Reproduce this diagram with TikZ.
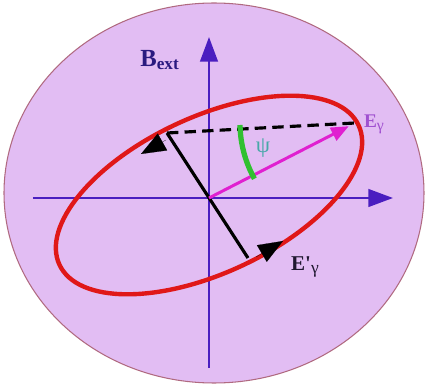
\documentclass[tikz,border=0pt]{standalone}
\usepackage{fontspec}
\setmainfont{Liberation Serif}
\usetikzlibrary{arrows.meta}
\definecolor{bgfill}{HTML}{E2BDF3}
\definecolor{bgline}{HTML}{B06A80}
\definecolor{axiscol}{HTML}{4A1EC0}
\definecolor{ellcol}{HTML}{E01818}
\definecolor{magcol}{HTML}{E020D0}
\definecolor{arccol}{HTML}{30C030}
\definecolor{psicol}{HTML}{48A8A8}
\definecolor{bcol}{HTML}{2A1A80}
\definecolor{ecol}{HTML}{A050D0}
\definecolor{epcol}{HTML}{201830}
\tikzset{
  axisline/.style={draw=axiscol, line width=1.4pt, -{Triangle[length=14pt,width=10pt]}},
  ellline/.style={draw=ellcol, line width=2.5pt},
  vecline/.style={draw=magcol, line width=1.7pt, -{Triangle[length=10pt,width=8pt]}},
  blackline/.style={draw=black, line width=1.8pt},
  dashline/.style={draw=black, line width=1.8pt, dash pattern=on 6.5pt off 3.5pt},
  rotarrow/.style={draw=black, line width=0.1pt, -{Triangle[length=14pt,width=11pt]}},
  psiarc/.style={draw=arccol, line width=3pt},
  lbl/.style={inner sep=0pt, font=\bfseries}
}
\begin{document}
\begin{tikzpicture}[x=0.02cm,y=0.02cm]
\useasboundingbox (0,0) rectangle (427,386);
% background disc
\filldraw[fill=bgfill, draw=bgline, line width=0.6pt] (214,193) ellipse [x radius=210, y radius=190];
% axes
\coordinate (O) at (209,188);
\coordinate (xl) at (33,188);
\coordinate (xr) at (393,188);
\coordinate (yb) at (209,18);
\coordinate (yt) at (209,349);
\draw[axisline] (xl) -- (xr);
\draw[axisline] (yb) -- (yt);
% polarization ellipse
\draw[ellline, rotate around={25:(209,191)}] (209,191) ellipse [x radius=165, y radius=78];
% key points
\coordinate (E) at (355,263);
\coordinate (P) at (167,253);
\coordinate (Q) at (248,128);
% vectors
\draw[blackline] (P) -- (Q);
\draw[dashline] (P) -- (E);
\draw[vecline, shorten >=4pt] (O) -- (E);
% rotation arrowheads on ellipse
\coordinate (b1) at (166,246);
\coordinate (t1) at (141,232);
\draw[rotarrow] (b1) -- (t1);
\coordinate (b2) at (256,129);
\coordinate (t2) at (283,145);
\draw[rotarrow] (b2) -- (t2);
% angle psi
\draw[psiarc] ([shift={(181:115)}]E) arc[start angle=181, end angle=209, radius=115];
\node[inner sep=0pt, text=psicol, font=\fontsize{13}{15}\selectfont] (psi) at (263,238) {ψ};
% labels
\node[lbl, text=bcol, font=\fontsize{14}{16}\selectfont\bfseries] (bext) at (160,326) {B\textsubscript{ext}};
\node[lbl, text=ecol, font=\fontsize{11}{13}\selectfont\bfseries] (elab) at (374,262) {E\raisebox{-0.35ex}{\mdseries\fontsize{9}{10}\selectfont γ}};
\node[lbl, text=epcol, font=\fontsize{12}{14}\selectfont\bfseries] (eplab) at (305,119) {E\textquotesingle\raisebox{-0.35ex}{\mdseries\fontsize{10}{11}\selectfont γ}};
\end{tikzpicture}
\end{document}
